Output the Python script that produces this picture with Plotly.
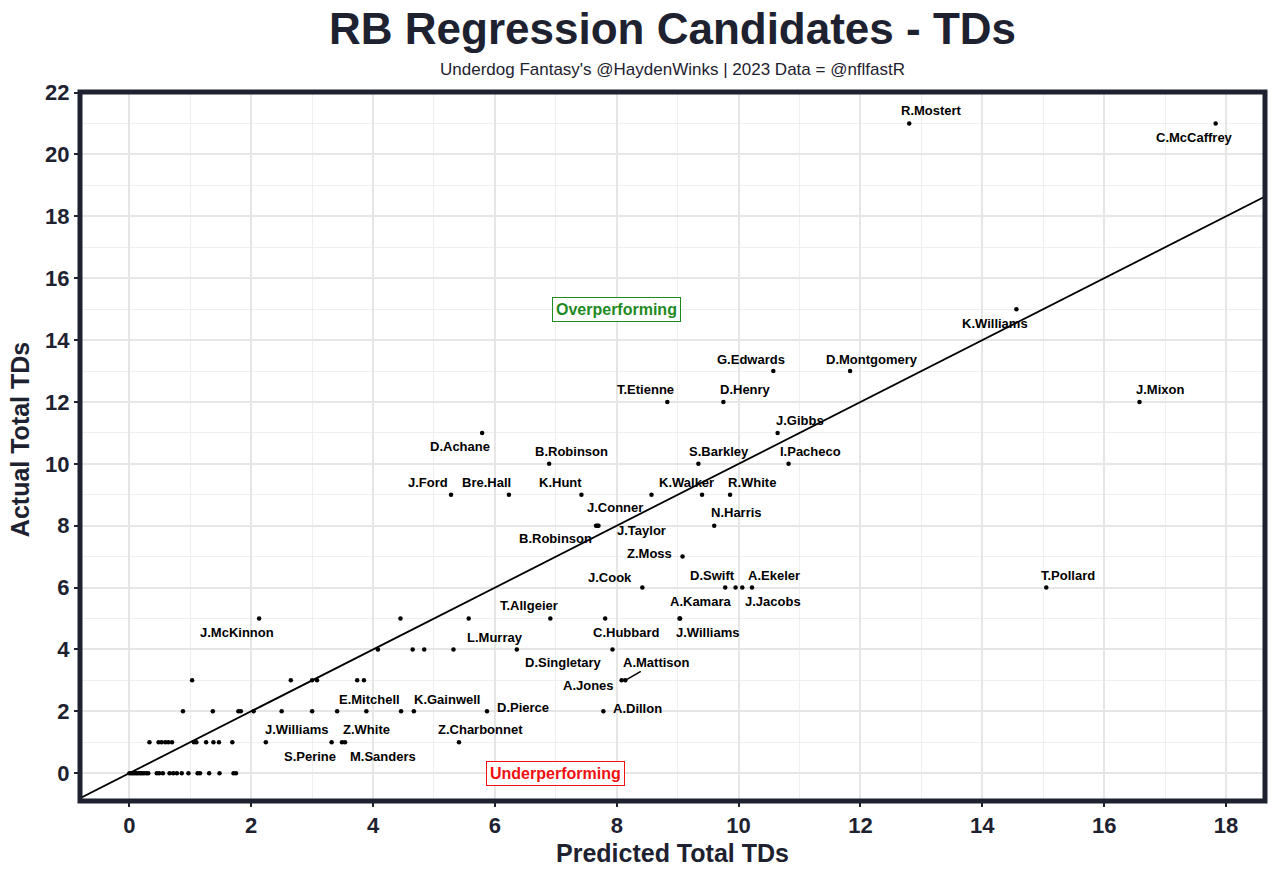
import plotly.graph_objects as go

# ---------------- data ----------------
labeled_names = ["R.Mostert", "C.McCaffrey", "K.Williams", "J.Mixon", "T.Pollard",
                 "G.Edwards", "D.Montgomery", "T.Etienne", "D.Henry", "J.Gibbs",
                 "I.Pacheco", "S.Barkley", "D.Achane", "B.Robinson", "J.Ford",
                 "Bre.Hall", "K.Hunt", "K.Walker", "R.White", "J.Conner",
                 "B.Robinson", "J.Taylor", "N.Harris", "Z.Moss", "J.Cook",
                 "D.Swift", "J.Jacobs", "A.Ekeler", "A.Kamara", "J.Williams",
                 "T.Allgeier", "C.Hubbard", "J.McKinnon", "L.Murray", "D.Singletary",
                 "A.Jones", "A.Mattison", "A.Dillon", "D.Pierce", "K.Gainwell",
                 "E.Mitchell", "Z.Charbonnet", "J.Williams", "S.Perine", "Z.White",
                 "M.Sanders"]
labeled_pred = [12.80, 17.83, 14.56, 16.58, 15.05,
                10.57, 11.83, 8.83, 9.75, 10.64,
                10.82, 9.34, 5.79, 6.89, 5.28,
                6.23, 7.42, 9.40, 9.86, 7.68,
                7.66, 7.70, 9.60, 9.08, 8.42,
                9.78, 10.06, 10.22, 9.03, 9.04,
                6.91, 7.81, 2.13, 6.36, 7.93,
                8.08, 8.14, 7.78, 5.87, 4.67,
                3.89, 5.41, 2.24, 3.32, 3.49,
                3.54]
labeled_actual = [21, 21, 15, 12, 6,
                  13, 13, 12, 12, 11,
                  10, 10, 11, 10, 9,
                  9, 9, 9, 9, 8,
                  8, 8, 8, 7, 6,
                  6, 6, 6, 5, 5,
                  5, 5, 5, 4, 4,
                  3, 3, 2, 2, 2,
                  2, 1, 1, 1, 1,
                  1]

other_pred = [8.57, 9.95,
              4.45, 5.57,
              4.08, 4.65, 4.84, 5.32,
              1.03, 2.65, 3.00, 3.08, 3.74, 3.85,
              0.88, 1.37, 1.79, 1.83, 2.04, 2.50, 3.00, 3.41, 4.46,
              0.33, 0.48, 0.53, 0.59, 0.64, 0.70, 1.06, 1.10, 1.26, 1.38, 1.47, 1.69,
              0.00, 0.03, 0.06, 0.09, 0.12, 0.15, 0.18, 0.21, 0.24, 0.28, 0.31, 0.45,
              0.49, 0.55, 0.66, 0.72, 0.78, 0.86, 0.97, 1.12, 1.16, 1.31, 1.48, 1.71, 1.75]
other_actual = [9, 6,
                5, 5,
                4, 4, 4, 4,
                3, 3, 3, 3, 3, 3,
                2, 2, 2, 2, 2, 2, 2, 2, 2,
                1, 1, 1, 1, 1, 1, 1, 1, 1, 1, 1, 1,
                0, 0, 0, 0, 0, 0, 0, 0, 0, 0, 0, 0,
                0, 0, 0, 0, 0, 0, 0, 0, 0, 0, 0, 0, 0]

x_ticks = [0, 2, 4, 6, 8, 10, 12, 14, 16, 18]
y_ticks = [0, 2, 4, 6, 8, 10, 12, 14, 16, 18, 20, 22]

title_text = "RB Regression Candidates - TDs"
subtitle_text = "Underdog Fantasy's @HaydenWinks | 2023 Data = @nflfastR"
x_title = "Predicted Total TDs"
y_title = "Actual Total TDs"

# ---------------- layout / style ----------------
# label offsets in pixels (dx right, dy up) for each labeled point
label_offsets = [(22, 13), (-21, -14), (-21, -14), (21, 12), (22, 12),
                 (-22, 12), (22, 12), (-22, 12), (22, 12), (22, 12),
                 (22, 12), (21, 12), (-22, -14), (22, 12), (-23, 12),
                 (-22, 12), (-21, 12), (-16, 12), (22, 12), (18, 18),
                 (-41, -13), (43, -5), (22, 13), (-33, 3), (-32, 10),
                 (-13, 12), (31, -14), (22, 12), (21, 17), (27, -14),
                 (-21, 13), (21, -14), (-22, -14), (-22, 12), (-49, -13),
                 (-33, -5), None, (34, 3), (36, 4), (33, 12),
                 (3, 12), (22, 13), (31, 13), (-22, -14), (25, 13),
                 (38, -14)]

X_RANGE = [-0.81, 18.64]
Y_RANGE = [-0.9, 22.02]
DARK = "#1e2230"
FONT = "Liberation Sans"

fig = go.Figure()

# reference line y = x
fig.add_trace(go.Scatter(x=X_RANGE, y=X_RANGE, mode="lines",
                         line=dict(color="black", width=1.8),
                         hoverinfo="skip", showlegend=False))

fig.add_trace(go.Scatter(x=other_pred, y=other_actual, mode="markers",
                         marker=dict(color="black", size=4.5),
                         showlegend=False))
fig.add_trace(go.Scatter(x=labeled_pred, y=labeled_actual, mode="markers",
                         marker=dict(color="black", size=4.5),
                         text=labeled_names, showlegend=False))

annotations = []
for name, xv, yv, off in zip(labeled_names, labeled_pred, labeled_actual, label_offsets):
    if off is None:
        annotations.append(dict(x=xv, y=yv, xref="x", yref="y", text=name,
                                showarrow=True, arrowhead=0, arrowwidth=1.6,
                                arrowcolor="black", ax=31, ay=-18, standoff=2,
                                font=dict(family=FONT, size=13, color="black", weight="bold")))
    else:
        annotations.append(dict(x=xv, y=yv, xref="x", yref="y", text=name,
                                showarrow=False, xshift=off[0], yshift=off[1],
                                font=dict(family=FONT, size=13, color="black", weight="bold")))

annotations.append(dict(x=8, y=15, xref="x", yref="y", text="Overperforming", showarrow=False,
                        font=dict(family=FONT, size=16, color="#1f8a1f", weight="bold"),
                        bgcolor="white", bordercolor="#1f8a1f", borderwidth=1, borderpad=3))
annotations.append(dict(x=7, y=0, xref="x", yref="y", text="Underperforming", showarrow=False,
                        font=dict(family=FONT, size=16, color="#f01010", weight="bold"),
                        bgcolor="white", bordercolor="#f01010", borderwidth=1, borderpad=3))

# titles
annotations.append(dict(x=0.5, y=1.0897, xref="paper", yref="paper", text=title_text,
                        showarrow=False, xanchor="center", yanchor="middle",
                        font=dict(family=FONT, size=44, color=DARK, weight="bold")))
annotations.append(dict(x=0.5, y=1.0324, xref="paper", yref="paper", text=subtitle_text,
                        showarrow=False, xanchor="center", yanchor="middle",
                        font=dict(family=FONT, size=17, color=DARK)))
annotations.append(dict(x=0.5, y=-0.0733, xref="paper", yref="paper", text=x_title,
                        showarrow=False, xanchor="center", yanchor="middle",
                        font=dict(family=FONT, size=25, color=DARK, weight="bold")))
annotations.append(dict(x=-0.0506, y=0.509, xref="paper", yref="paper", text=y_title,
                        showarrow=False, xanchor="center", yanchor="middle", textangle=-90,
                        font=dict(family=FONT, size=25, color=DARK, weight="bold")))

axis_common = dict(showgrid=True, gridcolor="#e6e6e6", gridwidth=1.6,
                   zeroline=False, showline=False,
                   ticks="outside", ticklen=5, tickwidth=1.5, tickcolor=DARK,
                   tickfont=dict(family=FONT, size=22, color=DARK, weight="bold"),
                   minor=dict(dtick=1, showgrid=True, gridcolor="#efefef", gridwidth=1, ticks=""))

fig.update_xaxes(range=X_RANGE, tickvals=x_ticks, **axis_common)
fig.update_yaxes(range=Y_RANGE, tickvals=y_ticks, **axis_common)

fig.update_layout(
    width=1280, height=877,
    margin=dict(l=80, r=15, t=92, b=76),
    plot_bgcolor="white", paper_bgcolor="white",
    annotations=annotations,
    shapes=[dict(type="rect", xref="paper", yref="paper", x0=0, x1=1, y0=0, y1=1,
                 line=dict(color=DARK, width=5), layer="above")],
    showlegend=False,
)

fig.write_html("out.html", config={"displayModeBar": False},
               post_script="document.body.style.margin='0';document.body.style.overflow='hidden';")
